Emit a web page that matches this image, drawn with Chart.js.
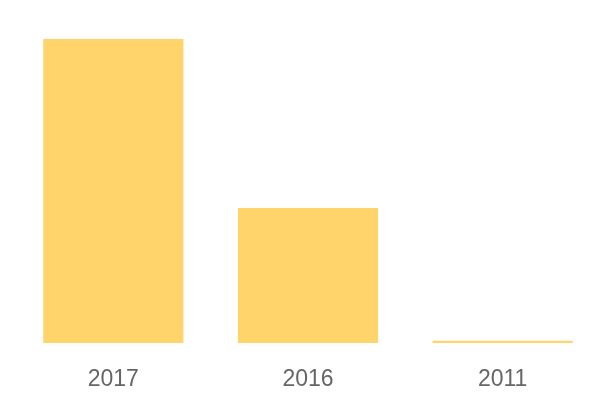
<!DOCTYPE html>
<html>
<head>
<meta charset="utf-8">
<script src="https://cdn.jsdelivr.net/npm/chart.js@4/dist/chart.umd.min.js"></script>
<style>
  html, body { margin: 0; padding: 0; background: #fff; }
  #wrap { width: 600px; height: 400px; }
</style>
</head>
<body>
<div id="wrap"><canvas id="barChart"></canvas></div>
<script>
const years = ['2017', '2016', '2011'];
const counts = [100, 44.4, 0.7];

const ctx = document.getElementById('barChart').getContext('2d');
new Chart(ctx, {
    type: 'bar',
    data: {
        labels: years,
        datasets: [{
            data: counts,
            backgroundColor: '#FED46B',
            categoryPercentage: 0.9,
            barPercentage: 0.8
        }]
    },
    options: {
        responsive: true,
        maintainAspectRatio: false,
        animation: false,
        layout: { padding: { top: 39, left: 16, right: 0, bottom: 0 } },
        plugins: { legend: { display: false }, tooltip: { enabled: false } },
        scales: {
            x: {
                grid: { display: false },
                border: { display: false },
                ticks: {
                    padding: 15,
                    maxRotation: 0,
                    color: '#666',
                    font: { family: 'Liberation Sans', size: 23 }
                },
                afterFit: (scale) => { scale.height = 57; }
            },
            y: {
                display: false,
                min: 0,
                max: 100
            }
        }
    }
});
</script>
</body>
</html>
